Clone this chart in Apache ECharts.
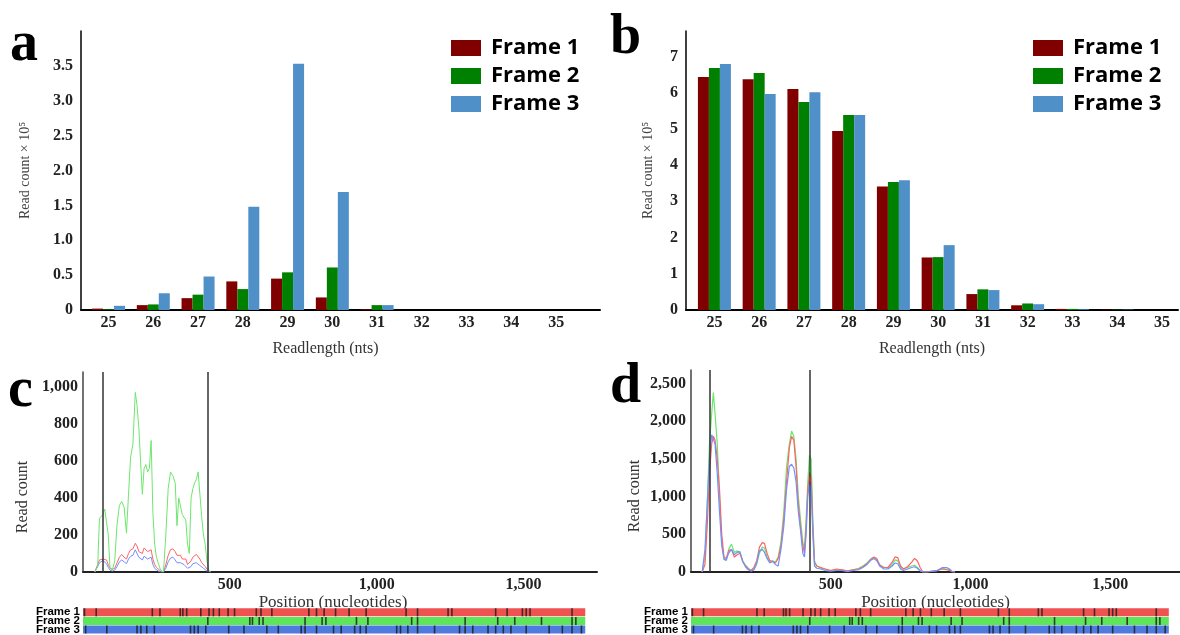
<!DOCTYPE html>
<html>
<head>
<meta charset="utf-8">
<script src="https://cdn.jsdelivr.net/npm/echarts@6/dist/echarts.min.js"></script>
<style>
html, body { margin: 0; padding: 0; background: #fff; }
#main { width: 1180px; height: 635px; }
</style>
</head>
<body>
<div id="main"></div>
<script>
// read lengths (nts) for panels a and b
var lengths = [25, 26, 27, 28, 29, 30, 31, 32, 33, 34, 35];
var frames = ['Frame 1', 'Frame 2', 'Frame 3'];

// panel a, read count x 10^5
var aFrame1 = [0.02, 0.07, 0.17, 0.41, 0.45, 0.18, 0.01, 0, 0, 0, 0];
var aFrame2 = [0.01, 0.08, 0.22, 0.30, 0.54, 0.61, 0.07, 0, 0, 0, 0];
var aFrame3 = [0.06, 0.24, 0.48, 1.48, 3.53, 1.69, 0.07, 0, 0, 0, 0];

// panel b, read count x 10^5
var bFrame1 = [6.43, 6.37, 6.10, 4.94, 3.41, 1.45, 0.44, 0.13, 0.03, 0.01, 0];
var bFrame2 = [6.68, 6.54, 5.74, 5.38, 3.53, 1.46, 0.57, 0.18, 0.03, 0.01, 0];
var bFrame3 = [6.79, 5.96, 6.01, 5.38, 3.58, 1.79, 0.55, 0.16, 0.02, 0.01, 0];

// panel c, read count along the transcript
var cPos = [40, 50, 56, 62, 68, 74, 80, 86, 92, 100,
    108, 116, 124, 132, 140, 148, 155, 162, 170, 178,
    184, 190, 196, 202, 208, 214, 220, 226, 232, 238,
    244, 250, 256, 264, 274, 282, 290, 298, 306, 314,
    320, 326, 332, 338, 344, 350, 356, 362, 368, 374,
    380, 386, 392, 398, 404, 410, 416, 422, 428, 434];
var cFrame1 = [0, 40, 65, 70, 70, 68, 65, 40, 20, 15,
    20, 50, 80, 95, 80, 70, 100, 120, 125, 155,
    140, 110, 120, 100, 130, 120, 110, 115, 120, 70,
    40, 25, 15, 5, 0, 40, 90, 120, 125, 110,
    90, 100, 90, 70, 75, 70, 40, 30, 60, 80,
    85, 95, 90, 70, 50, 40, 30, 15, 5, 0];
var cFrame2 = [0, 30, 290, 300, 310, 340, 350, 200, 20, 10,
    60, 260, 360, 380, 350, 210, 420, 620, 690, 970,
    900, 780, 600, 420, 560, 580, 540, 560, 710, 320,
    150, 80, 50, 10, 0, 200, 450, 540, 520, 480,
    250, 400, 410, 310, 300, 280, 150, 100, 400, 450,
    480, 500, 540, 420, 300, 200, 150, 60, 10, 0];
var cFrame3 = [0, 30, 50, 60, 62, 55, 45, 25, 10, 5,
    10, 30, 55, 65, 55, 45, 70, 85, 90, 120,
    110, 80, 75, 65, 85, 80, 70, 75, 80, 40,
    20, 10, 5, 0, 0, 20, 55, 75, 80, 65,
    50, 55, 50, 40, 40, 35, 20, 15, 30, 45,
    45, 50, 45, 35, 25, 20, 15, 5, 0, 0];

// panel d
var dPos = [40, 50, 58, 66, 74, 80, 86, 94, 102, 110,
    118, 126, 135, 145, 155, 165, 175, 185, 195, 205,
    215, 225, 235, 245, 255, 263, 272, 282, 292, 302,
    312, 322, 332, 342, 352, 360, 368, 376, 384, 392,
    400, 406, 412, 418, 424, 430, 436, 442, 450, 465,
    480, 500, 520, 540, 560, 580, 600, 615, 630, 645,
    655, 665, 675, 690, 705, 720, 730, 740, 750, 760,
    775, 790, 800, 810, 820, 830, 845, 860, 880, 900,
    915, 925, 935, 945];
var dFrame1 = [0, 100, 600, 1300, 1700, 1800, 1750, 1500, 1100, 500,
    200, 180, 280, 300, 200, 230, 250, 140, 80, 40,
    20, 60, 150, 330, 390, 380, 250, 150, 140, 120,
    180, 350, 700, 1200, 1650, 1800, 1750, 1400, 900, 600,
    350, 250, 600, 1100, 1320, 1250, 600, 120, 80, 60,
    40, 20, 40, 30, 15, 30, 40, 70, 110, 170,
    200, 180, 90, 60, 60, 130, 200, 190, 80, 40,
    70, 130, 180, 150, 60, 0, 0, 10, 20, 40,
    30, 20, 5, 0];
var dFrame2 = [0, 200, 900, 1700, 2100, 2380, 2100, 1700, 1000, 400,
    170, 150, 300, 370, 260, 280, 260, 150, 90, 50,
    20, 30, 100, 250, 330, 320, 200, 130, 150, 130,
    200, 400, 800, 1400, 1700, 1870, 1800, 1500, 1000, 700,
    400, 300, 700, 1200, 1550, 1500, 700, 150, 80, 50,
    40, 20, 30, 30, 10, 30, 50, 80, 120, 180,
    190, 170, 100, 60, 50, 100, 160, 150, 60, 40,
    60, 80, 90, 60, 20, 0, 0, 10, 20, 50,
    40, 30, 5, 0];
var dFrame3 = [0, 300, 900, 1500, 1820, 1800, 1700, 1300, 800, 350,
    170, 160, 250, 300, 230, 260, 270, 140, 70, 30,
    10, 30, 120, 280, 300, 260, 180, 120, 140, 100,
    80, 300, 600, 1100, 1400, 1430, 1380, 1200, 800, 550,
    250, 200, 500, 1000, 1200, 1150, 500, 80, 50, 40,
    20, 10, 20, 20, 5, 20, 30, 60, 100, 160,
    180, 150, 80, 40, 40, 80, 120, 110, 40, 20,
    40, 60, 70, 50, 15, 0, 0, 10, 15, 60,
    60, 40, 5, 0];

// ORF borders (vertical lines) and transcript length
var orfBounds = [67, 426];
var seqLength = 1710;

// stop codons per frame (position in nt)
var stopsFrame1 = [5, 45, 236, 262, 331, 340, 353, 401, 429, 444, 464, 494, 516, 590, 606, 643, 769, 795, 821, 860, 906, 964, 1100, 1139, 1243, 1256, 1405, 1444, 1496, 1509, 1522, 1665];
var stopsFrame2 = [425, 568, 577, 600, 613, 756, 814, 827, 931, 970, 1119, 1139, 1301, 1412, 1470, 1561, 1665, 1678];
var stopsFrame3 = [9, 81, 184, 197, 217, 243, 366, 379, 392, 418, 496, 548, 626, 665, 743, 756, 795, 853, 879, 925, 944, 964, 1068, 1081, 1106, 1139, 1197, 1282, 1301, 1327, 1379, 1405, 1431, 1457, 1509, 1587, 1632, 1665, 1697];

var barColors = ['#800000', '#008000', '#5090c8'];
var lineColors = ['#ff6464', '#6ee66e', '#7090ff'];
var trackColors = ['#f05252', '#5ee65a', '#4f7be0'];
var serif = 'Liberation Serif';

function fmtThousands(v) {
    return String(v).replace(/\B(?=(\d{3})+(?!\d))/g, ',');
}

function barSeries(name, vals, idx, color) {
    return {
        name: name, type: 'bar', xAxisIndex: idx, yAxisIndex: idx,
        data: lengths.map(function (l, k) { return [l, vals[k]]; }),
        barWidth: 11, barGap: '0%',
        itemStyle: { color: color }
    };
}

function lineSeries(name, pos, vals, idx, color, width) {
    return {
        name: name, type: 'line', xAxisIndex: idx, yAxisIndex: idx,
        data: pos.map(function (p, k) { return [p, vals[k]]; }),
        showSymbol: false, symbol: 'none',
        lineStyle: { color: color, width: width },
        itemStyle: { color: color }
    };
}

function orfLines() {
    return {
        silent: true, symbol: ['none', 'none'],
        label: { show: false },
        lineStyle: { color: '#333', width: 1.5, type: 'solid' },
        data: orfBounds.map(function (p) { return { xAxis: p }; })
    };
}

function trackSeries(idx) {
    var out = [{
        type: 'bar', xAxisIndex: idx, yAxisIndex: idx, silent: true,
        barWidth: 8,
        data: frames.map(function (f, k) { return { value: seqLength, itemStyle: { color: trackColors[k] } }; })
    }];
    [stopsFrame1, stopsFrame2, stopsFrame3].forEach(function (stops, k) {
        out.push({
            type: 'scatter', xAxisIndex: idx, yAxisIndex: idx, silent: true,
            symbol: 'rect', symbolSize: [1.6, 8], z: 3,
            itemStyle: { color: '#1a1a1a' },
            data: stops.map(function (p) { return [p, frames[k]]; })
        });
    });
    return out;
}

var tickFont = { fontFamily: serif, fontSize: 16, color: '#222', fontWeight: 'bold' };

function barXAxis(idx, min, max) {
    return {
        type: 'value', gridIndex: idx, min: min, max: max,
        axisLine: { show: true, lineStyle: { color: '#000', width: 2 } },
        axisTick: { show: false }, splitLine: { show: false },
        axisLabel: Object.assign({ customValues: lengths, margin: 5 }, tickFont),
        name: 'Readlength (nts)', nameLocation: 'middle', nameGap: 31,
        nameTextStyle: { fontFamily: serif, fontSize: 16, color: '#333', padding: [0, idx === 0 ? 30 : 0, 0, 0] }
    };
}

function barYAxis(idx, max, interval, gap, fmt) {
    return {
        type: 'value', gridIndex: idx, min: 0, max: max, interval: interval,
        axisLine: { show: true, lineStyle: { color: '#000', width: 1.5 } },
        axisTick: { show: false }, splitLine: { show: false },
        axisLabel: Object.assign({ margin: 8, showMaxLabel: false, formatter: fmt }, tickFont),
        name: 'Read count \u00d7 10\u2075', nameLocation: 'middle', nameGap: gap,
        nameTextStyle: { fontFamily: serif, fontSize: 14, color: '#444' }
    };
}

function posXAxis(idx) {
    return {
        type: 'value', gridIndex: idx, min: 0, max: 1750, interval: 500,
        axisLine: { show: true, lineStyle: { color: '#222', width: 2 } },
        axisTick: { show: false }, splitLine: { show: false },
        axisLabel: Object.assign({ margin: 5, showMinLabel: false, showMaxLabel: false, formatter: fmtThousands }, tickFont),
        name: 'Position (nucleotides)', nameLocation: 'middle', nameGap: 21,
        nameTextStyle: { fontFamily: serif, fontSize: 17, color: '#333', padding: [0, idx === 2 ? 14 : 0, 0, 0] }
    };
}

function countYAxis(idx, max, interval, gap) {
    return {
        type: 'value', gridIndex: idx, min: 0, max: max, interval: interval,
        axisLine: { show: true, lineStyle: { color: '#444', width: 1.5 } },
        axisTick: { show: false }, splitLine: { show: false },
        axisLabel: Object.assign({ margin: 5, showMaxLabel: false, formatter: fmtThousands }, tickFont),
        name: 'Read count', nameLocation: 'middle', nameGap: gap,
        nameTextStyle: { fontFamily: serif, fontSize: 16, color: '#333', padding: [0, 50, 0, 0] }
    };
}

function trackXAxis(idx) {
    return { type: 'value', gridIndex: idx, min: 0, max: 1750, show: false };
}

function trackYAxis(idx) {
    return {
        type: 'category', gridIndex: idx, data: frames, inverse: true,
        axisLine: { show: false }, axisTick: { show: false },
        axisLabel: { interval: 0, hideOverlap: false, fontFamily: 'Liberation Sans', fontWeight: 'bold', fontSize: 11.5, lineHeight: 10, color: '#000', margin: 3 }
    };
}

function legendAt(left) {
    return {
        left: left, top: 37, orient: 'vertical', padding: 0,
        itemWidth: 30, itemHeight: 16, itemGap: 6, icon: 'rect',
        selectedMode: false, data: frames,
        textStyle: { fontFamily: 'Open Sans', fontWeight: 'bold', fontSize: 22, color: '#000', lineHeight: 22, padding: [0, 0, 0, 5] }
    };
}

function letter(ch, x, y) {
    return {
        type: 'text', left: x, top: y, silent: true,
        style: { text: ch, font: 'bold 56px "Liberation Serif"', fill: '#000' }
    };
}

var myChart = echarts.init(document.getElementById('main'));

var series = [
    barSeries('Frame 1', aFrame1, 0, barColors[0]),
    barSeries('Frame 2', aFrame2, 0, barColors[1]),
    barSeries('Frame 3', aFrame3, 0, barColors[2]),
    barSeries('Frame 1', bFrame1, 1, barColors[0]),
    barSeries('Frame 2', bFrame2, 1, barColors[1]),
    barSeries('Frame 3', bFrame3, 1, barColors[2]),
    lineSeries('c1', cPos, cFrame1, 2, lineColors[0], 1),
    lineSeries('c3', cPos, cFrame3, 2, lineColors[2], 1),
    lineSeries('c2', cPos, cFrame2, 2, lineColors[1], 1),
    lineSeries('d2', dPos, dFrame2, 3, lineColors[1], 1.2),
    lineSeries('d1', dPos, dFrame1, 3, lineColors[0], 1.2),
    lineSeries('d3', dPos, dFrame3, 3, lineColors[2], 1.2)
];
series[8].markLine = orfLines();
series[11].markLine = orfLines();
series = series.concat(trackSeries(4), trackSeries(5));

option = {
    animation: false,
    backgroundColor: '#fff',
    grid: [
        { left: 81, top: 31, width: 519, height: 279 },
        { left: 686, top: 31, width: 492, height: 279 },
        { left: 83, top: 372, width: 514, height: 200 },
        { left: 691, top: 370, width: 514, height: 202 },
        { left: 83, top: 608, width: 514, height: 29 },
        { left: 691, top: 608, width: 514, height: 29 }
    ],
    xAxis: [
        barXAxis(0, 24.385, 35.98),
        barXAxis(1, 24.365, 35.36),
        posXAxis(2),
        posXAxis(3),
        trackXAxis(4),
        trackXAxis(5)
    ],
    yAxis: [
        barYAxis(0, 4, 0.5, 49, function (v) { return v === 0 ? '0' : v.toFixed(1); }),
        barYAxis(1, 7.7, 1, 31, function (v) { return String(v); }),
        countYAxis(2, 1080, 200, 52),
        countYAxis(3, 2680, 500, 48),
        trackYAxis(4),
        trackYAxis(5)
    ],
    legend: [legendAt(451), legendAt(1033)],
    graphic: [
        letter('a', 10, 18),
        letter('b', 610, 11),
        letter('c', 8, 364),
        letter('d', 610, 360)
    ],
    series: series
};
myChart.setOption(option);
</script>
</body>
</html>
